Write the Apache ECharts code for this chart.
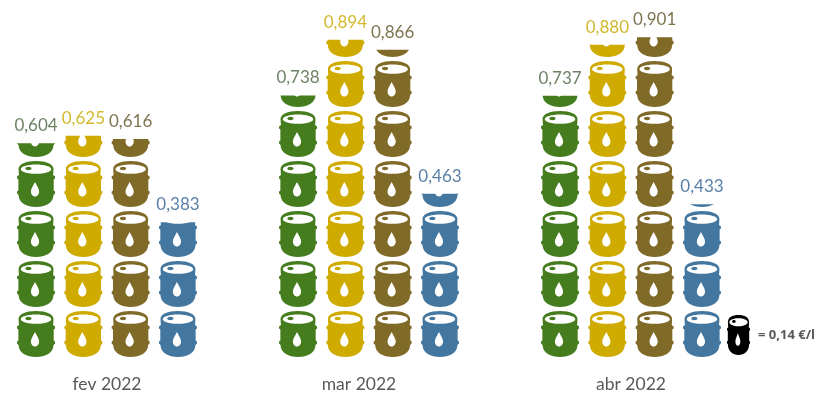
<!DOCTYPE html>
<html>
<head>
<meta charset="utf-8">
<style>html,body{margin:0;padding:0;background:#fff}#chart{width:823px;height:395px}</style>
<script src="https://cdn.jsdelivr.net/npm/echarts@6/dist/echarts.min.js"></script>
</head>
<body>
<div id="chart"></div>
<script>
// Monthly prices in EUR per litre; one barrel stands for 0.14 EUR/l
const months = ['fev 2022', 'mar 2022', 'abr 2022'];
const greenValues = [0.604, 0.738, 0.737];
const yellowValues = [0.625, 0.894, 0.880];
const brownValues = [0.616, 0.866, 0.901];
const blueValues = [0.383, 0.463, 0.433];
const barrelUnit = 0.14;
const barrelsPerColumn = 7;
const unitCaption = '= 0,14 €/l';

// Barrel silhouette: body clockwise, lid and drop counter-clockwise to punch holes
const barrelPath = 'path://M19 0C29 0 36 3 36 8C36 10 35.8 12 35.6 14L37.5 15.5L37.5 17.5L36.2 18.5L36.2 29.5L37.5 30.5L37.5 32.5L36 34' +
  'C36 42 28 46 19 46C10 46 2 42 2 34L.5 32.5L.5 30.5L1.8 29.5L1.8 18.5L.5 17.5L.5 15.5L2.4 14C2.2 12 2 10 2 8C2 3 9 0 19 0Z' +
  'M33.8 8.2C33.8 5.8 27.5 3.6 19 3.6C10.5 3.6 4.2 5.8 4.2 8.2C4.2 10.6 10.5 12.8 19 12.8C27.5 12.8 33.8 10.6 33.8 8.2Z' +
  'M8.6 7.5C8.6 6.5 9.8 5.8 11.6 5.8C13.4 5.8 14.6 6.5 14.6 7.5C14.6 8.5 13.4 9.2 11.6 9.2C9.8 9.2 8.6 8.5 8.6 7.5Z' +
  'M18 21C16.4 24.5 14 27.5 14 30.5C14 33.2 15.8 35.5 18 35.5C20.2 35.5 22 33.2 22 30.5C22 27.5 19.6 24.5 18 21Z';

const fontFamily = 'Lato, "Open Sans", sans-serif';

const columns = [
  { values: greenValues, color: '#457c1e', labelColor: '#6d8264' },
  { values: yellowValues, color: '#cfab00', labelColor: '#d2b930' },
  { values: brownValues, color: '#806a28', labelColor: '#7d7450' },
  { values: blueValues, color: '#44779f', labelColor: '#5a80a8' }
];

function barrelSeries(col) {
  return {
    type: 'pictorialBar',
    data: col.values,
    barWidth: 38,
    barGap: '24.5%',
    symbol: barrelPath,
    symbolSize: [38, 46],
    symbolRepeat: barrelsPerColumn,
    symbolMargin: '2!',
    symbolClip: true,
    symbolBoundingData: barrelUnit * barrelsPerColumn,
    itemStyle: { color: col.color }
  };
}

// Invisible column of the same height that carries the value above the barrels
function valueLabelSeries(col) {
  return {
    type: 'bar',
    data: col.values,
    barWidth: 38,
    barGap: '24.5%',
    itemStyle: { color: 'transparent' },
    label: {
      show: true,
      position: 'top',
      distance: 9,
      color: col.labelColor,
      fontFamily: fontFamily,
      fontSize: 17,
      formatter: p => p.value.toFixed(3).replace('.', ',')
    }
  };
}

const chart = echarts.init(document.getElementById('chart'), null, { renderer: 'canvas' });
chart.setOption({
  animation: false,
  backgroundColor: '#ffffff',
  grid: { left: -24, width: 786, top: 9, height: 350, outerBoundsMode: 'none' },
  legend: {
    left: 727,
    top: 315,
    padding: 0,
    itemWidth: 23,
    itemHeight: 40,
    itemGap: 10,
    symbolKeepAspect: false,
    data: [{ name: unitCaption, icon: barrelPath, itemStyle: { color: '#000000' } }],
    selectedMode: false,
    textStyle: { color: '#595959', fontFamily: '"Open Sans", sans-serif', fontSize: 13, fontWeight: 'bold', padding: [4, 0, 0, 3] }
  },
  xAxis: {
    type: 'category',
    data: months.map((m, i) => i === 1
      ? { value: m, textStyle: { padding: [0, 20, 0, 0] } }
      : { value: m }),
    axisLine: { show: false },
    axisTick: { show: false },
    axisLabel: { color: '#595959', fontFamily: fontFamily, fontSize: 17.5, margin: 16 }
  },
  yAxis: {
    type: 'value',
    min: 0,
    max: barrelUnit * barrelsPerColumn,
    show: false
  },
  series: [
    ...columns.map(barrelSeries),
    ...columns.map(valueLabelSeries),
    // Empty series that only carries the unit key in the legend
    { type: 'line', name: unitCaption, data: [], itemStyle: { color: '#000000' } }
  ]
});
</script>
</body>
</html>
